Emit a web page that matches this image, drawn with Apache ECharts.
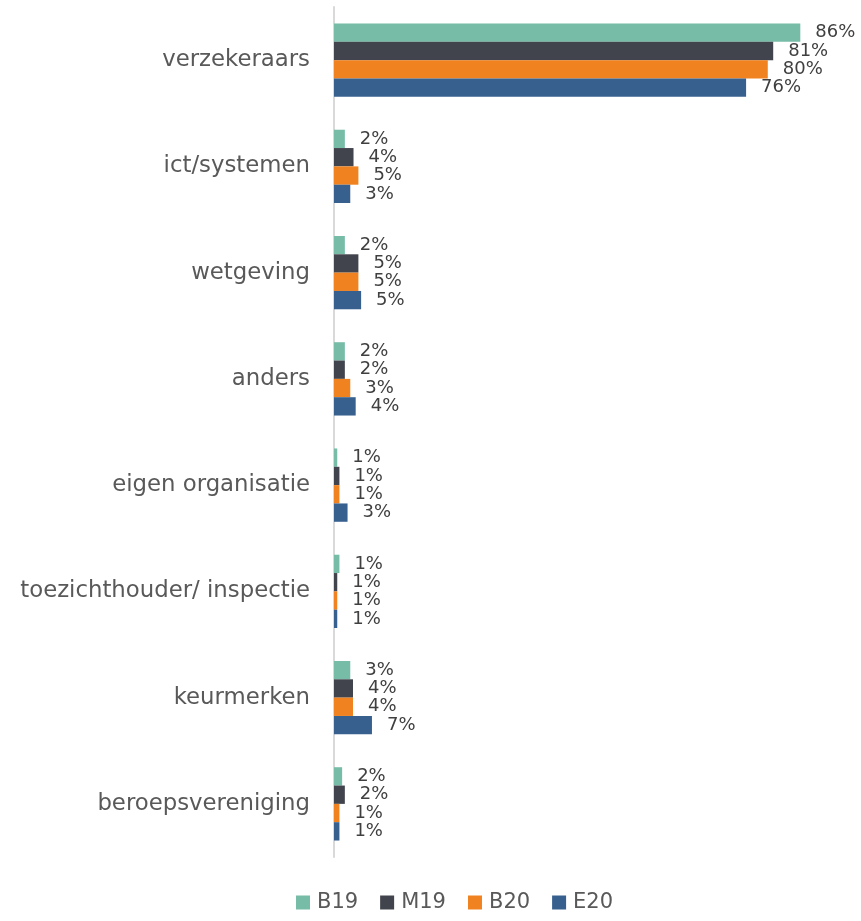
<!DOCTYPE html>
<html>
<head>
<meta charset="utf-8">
<script src="https://cdn.jsdelivr.net/npm/echarts@6/dist/echarts.min.js"></script>
<style>
html,body{margin:0;padding:0;background:#fff;}
#chart{width:861px;height:921px;}
</style>
</head>
<body>
<div id="chart"></div>
<script>
const categories = ["verzekeraars","ict/systemen","wetgeving","anders","eigen organisatie","toezichthouder/ inspectie","keurmerken","beroepsvereniging"];
const seriesNames = ["B19","M19","B20","E20"];
const B19 = [86, 2.0, 2.0, 2.0, 0.6, 1.0, 3.0, 1.5];
const M19 = [81, 3.6, 4.5, 2.0, 1.0, 0.6, 3.5, 2.0];
const B20 = [80, 4.5, 4.5, 3.0, 1.0, 0.6, 3.5, 1.0];
const E20 = [76, 3.0, 5.0, 4.0, 2.5, 0.6, 7.0, 1.0];
const colors = ["#76BCA7","#41444C","#F0821F","#37608F"];

const chart = echarts.init(document.getElementById('chart'));
const font = "'DejaVu Sans', sans-serif";
const seriesData = [B19, M19, B20, E20];
chart.setOption({
  animation: false,
  color: colors,
  grid: {left: 334, right: 39, top: 7, height: 850, containLabel: false},
  xAxis: {type: 'value', min: 0, max: 90, show: false},
  yAxis: {
    type: 'category', data: categories, inverse: true,
    axisLine: {show: true, lineStyle: {color: '#D9D9D9', width: 2}},
    axisTick: {show: false},
    axisLabel: {fontFamily: font, fontSize: 22.8, color: '#595959', margin: 24}
  },
  legend: {
    bottom: 3, left: 291, itemWidth: 14, itemHeight: 14, itemGap: 22,
    icon: 'rect',
    textStyle: {fontFamily: font, fontSize: 21, color: '#595959', padding: [0, 0, 0, 2]},
    data: seriesNames
  },
  series: seriesNames.map((n, i) => ({
    name: n, type: 'bar', data: seriesData[i],
    barCategoryGap: '31%', barGap: '0%',
    label: {
      show: true, position: 'right', distance: 15,
      fontFamily: font, fontSize: 18, color: '#404040',
      formatter: p => Math.round(p.value) + '%'
    }
  }))
});
</script>
</body>
</html>
